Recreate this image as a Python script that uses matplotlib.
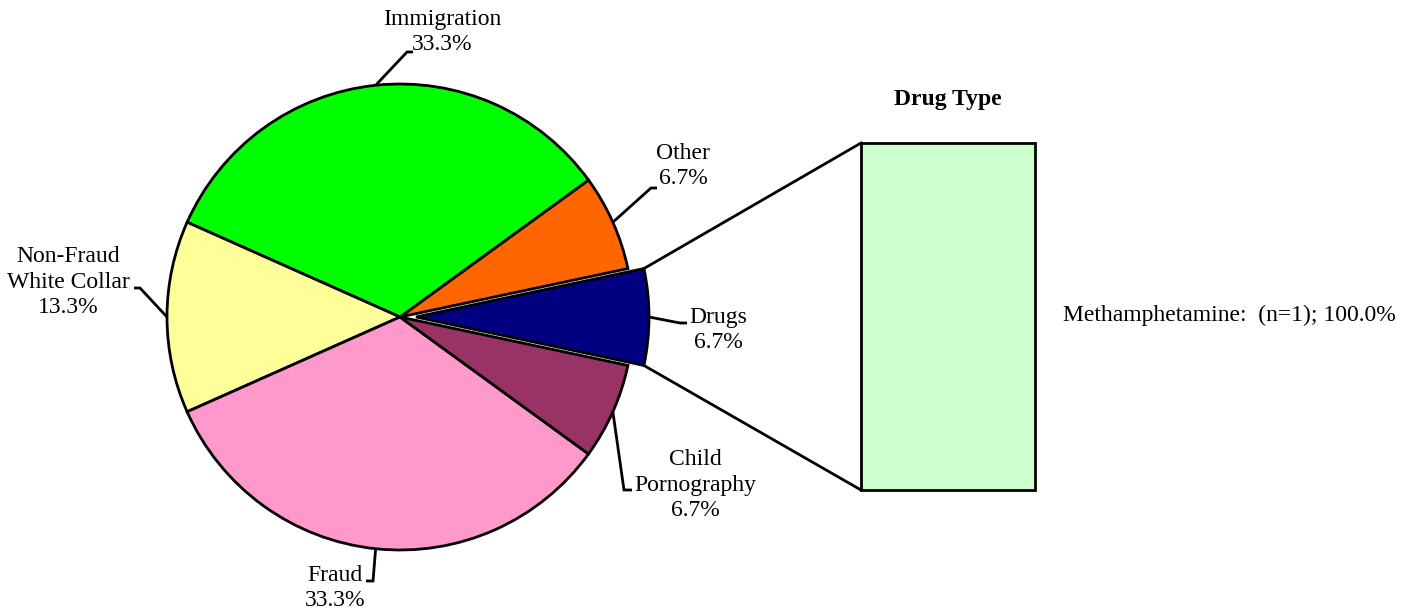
import numpy as np
import matplotlib
matplotlib.use("Agg")
import matplotlib.pyplot as plt

plt.rcParams['font.family'] = ['Liberation Serif', 'DejaVu Serif']

# offense categories (counts out of 15 cases)
categories = ["Drugs", "Other", "Immigration", "Non-Fraud\nWhite Collar", "Fraud",
              "Child\nPornography"]
counts = [1, 1, 5, 2, 5, 1]
pct_labels = ["6.7%", "6.7%", "33.3%", "13.3%", "33.3%", "6.7%"]
colors = ["#000080", "#FF6600", "#00FF00", "#FFFF99", "#FF99CC", "#993366"]

# drug type breakdown
drug_types = ["Methamphetamine"]
drug_n = [1]
drug_pct = [100.0]

H = 613
LW = 2.0
fig = plt.figure(figsize=(14.19, 6.13), dpi=100)
ax = fig.add_axes([0, 0, 1, 1])

cx, cy, R = 400, H - 317, 233
wedges, _ = ax.pie(counts, colors=colors, startangle=-12, counterclock=True,
                   explode=[16, 0, 0, 0, 0, 0], radius=R, center=(cx, cy),
                   wedgeprops=dict(edgecolor="black", linewidth=LW))

# label layout: (elbow point, end of horizontal tick, text x, text y) in pixels
layout = [
    ((680, 323), (687, 323), 718, 330),
    ((651, 188), (657, 188), 683, 166),
    ((407, 52), (413, 52), 442, 32),
    ((140, 288), (134, 288), 68, 282),
    ((373, 581), (366, 581), 335, 588),
    ((624, 490), (632, 490), 695, 485),
]

for w, cat, pct, lay in zip(wedges, categories, pct_labels, layout):
    mid = np.deg2rad((w.theta1 + w.theta2) / 2)
    wx, wy = w.center
    sx, sy = wx + w.r * np.cos(mid), wy + w.r * np.sin(mid)
    (ex, ey), (tx2, ty2), tx, ty = lay
    ax.plot([sx, ex, tx2], [sy, H - ey, H - ty2], color="black", lw=LW,
            solid_capstyle="butt", solid_joinstyle="miter")
    ax.text(tx, H - ty, cat + "\n" + pct, ha="center", va="center", fontsize=17,
            linespacing=1.3, multialignment="center")

# drug type bar
bx, bw, btop, bbot = 861, 174, 143, 490
scale = (bbot - btop) / 100.0
ax.bar([bx + bw / 2], [p * scale for p in drug_pct], width=bw, bottom=H - bbot,
       color="#CCFFCC", edgecolor="black", linewidth=LW)
for name, n, p in zip(drug_types, drug_n, drug_pct):
    ax.text(1063, H - 315, "%s:  (n=%d); %.1f%%" % (name, n, p), ha="left",
            va="center", fontsize=17)
ax.text(bx + bw / 2, H - 100, "Drug Type", ha="center", va="center",
        fontsize=17, fontweight="bold")

# connector lines from drugs slice to the bar
dw = wedges[0]
dx, dy = dw.center
for ang, by in [(dw.theta2, btop), (dw.theta1, bbot)]:
    a = np.deg2rad(ang)
    ax.plot([dx + dw.r * np.cos(a), bx], [dy + dw.r * np.sin(a), H - by],
            color="black", lw=LW)

ax.set_xlim(0, 1419)
ax.set_ylim(0, H)
ax.set_aspect("auto")
ax.axis("off")

fig.savefig("out.png", dpi=100, facecolor="white")
